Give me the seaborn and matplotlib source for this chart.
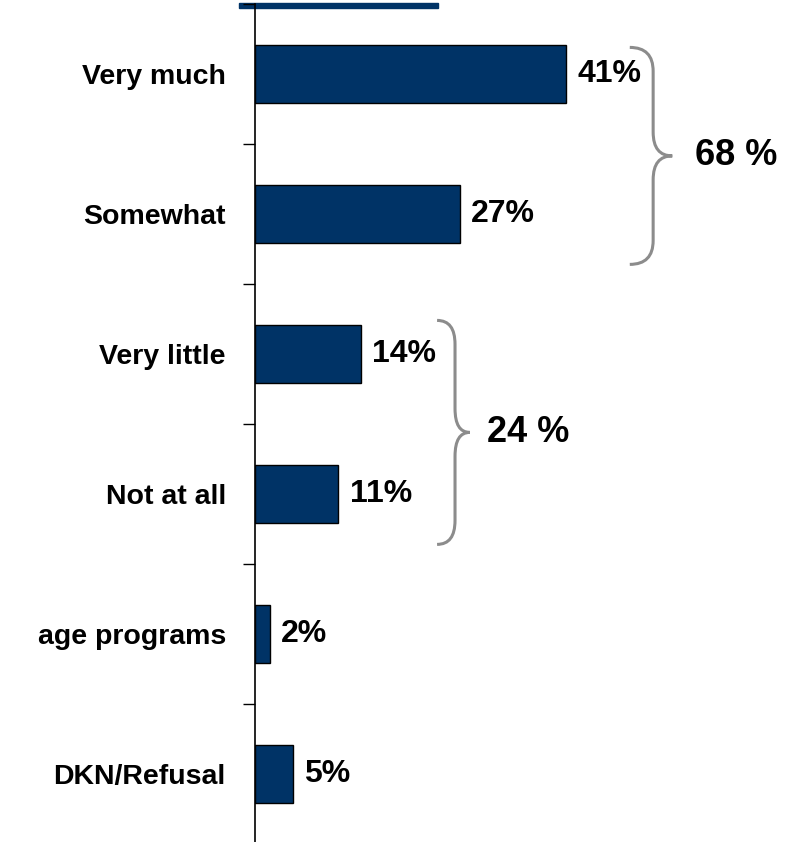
import numpy as np
import matplotlib
matplotlib.use("Agg")
import matplotlib.pyplot as plt
from matplotlib.path import Path
from matplotlib.patches import PathPatch, Rectangle
import seaborn as sns

# survey answers (label on the left is cut off in the source picture)
categories = ["Very much", "Somewhat", "Very little", "Not at all",
              "age programs", "DKN/Refusal"]
values = [41, 27, 14, 11, 2, 5]
value_labels = ["41%", "27%", "14%", "11%", "2%", "5%"]

# grouped totals shown with braces
group_labels = ["68 %", "24 %"]

NAVY = "#003366"
GREY = "#8c8c8c"

sns.set_style("white")
plt.rcParams["font.family"] = ["Liberation Sans", "DejaVu Sans"]
plt.rcParams["font.weight"] = "bold"

fig = plt.figure(figsize=(8.02, 8.42), dpi=100)
ax = fig.add_axes([255 / 802, -2 / 842, 547 / 802, 840 / 842])
ax.patch.set_visible(False)

sns.barplot(x=values, y=categories, color=NAVY, width=0.41,
            edgecolor="black", linewidth=1.0, saturation=1, ax=ax)
ax.set_xlim(0, 72.1)
ax.set_ylim(5.5, -0.5)
ax.set_xlabel("")
ax.set_ylabel("")

ax.bar_label(ax.containers[0], labels=value_labels, padding=8,
             fontsize=23, fontweight="bold", color="black")

# axis styling: only the left spine, ticks between categories
for side in ["top", "right", "bottom"]:
    ax.spines[side].set_visible(False)
ax.spines["left"].set_color("black")
ax.spines["left"].set_linewidth(1.2)
ax.set_xticks([])
ax.set_yticks(np.arange(-0.5, len(categories), 1.0), minor=True)
ax.tick_params(axis="y", which="major", left=True, length=0, pad=21,
               labelsize=20.5, labelcolor="black")
ax.tick_params(axis="y", which="minor", left=True, direction="out",
               length=8.5, width=1.0, color="black")
for lbl in ax.get_yticklabels():
    lbl.set_fontweight("bold")


def draw_brace(ax, x0, width, y_top, y_bot, r=0.17):
    x_mid = x0 + width * 0.55
    x_tip = x0 + width
    y_mid = (y_top + y_bot) / 2
    verts = [(x0, y_top), (x_mid, y_top), (x_mid, y_top + r),
             (x_mid, y_mid - r), (x_mid, y_mid), (x_tip, y_mid),
             (x_mid, y_mid), (x_mid, y_mid + r),
             (x_mid, y_bot - r), (x_mid, y_bot), (x0, y_bot)]
    codes = [Path.MOVETO, Path.CURVE3, Path.CURVE3,
             Path.LINETO, Path.CURVE3, Path.CURVE3,
             Path.CURVE3, Path.CURVE3,
             Path.LINETO, Path.CURVE3, Path.CURVE3]
    ax.add_patch(PathPatch(Path(verts, codes), facecolor="none",
                           edgecolor=GREY, linewidth=2.2, clip_on=False))
    return x_tip, y_mid


# brace placement (annotation offsets)
brace_x = [49.4, 24.0]
brace_w = [5.6, 4.3]
brace_span = [(-0.19, 1.36), (1.76, 3.36)]
text_gap = [3.0, 2.3]
for lab, bx, bw, (yt, yb), gap in zip(group_labels, brace_x, brace_w,
                                       brace_span, text_gap):
    tx, ty = draw_brace(ax, bx, bw, yt, yb)
    ax.text(tx + gap, ty, lab, fontsize=26, fontweight="bold",
            ha="left", va="center", color="black")

# underline of the (cropped) heading at the very top, under the axis line
fig.patches.append(Rectangle((239 / 802, 1 - 8 / 842), 199 / 802, 5 / 842,
                             transform=fig.transFigure, color=NAVY,
                             zorder=-1))

fig.savefig("out.png", dpi=100)
